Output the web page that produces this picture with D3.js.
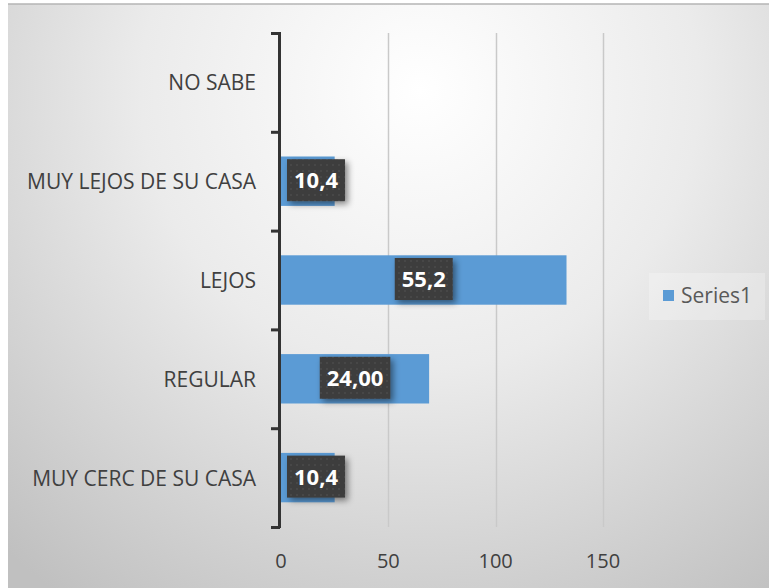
<!DOCTYPE html>
<html><head><meta charset="utf-8">
<script src="https://cdn.jsdelivr.net/npm/d3@7"></script>
<style>html,body{margin:0;padding:0;background:#fff;}svg{display:block;}</style>
</head><body>
<svg id="c" width="769" height="588"></svg>
<script>
const categories = ["MUY CERC DE SU CASA", "REGULAR", "LEJOS", "MUY LEJOS DE SU CASA", "NO SABE"];
const values = [25, 69, 133, 25, 0];
const dataLabels = ["10,4", "24,00", "55,2", "10,4", ""];
const xTicks = [0, 50, 100, 150];
const seriesName = "Series1";

const svg = d3.select("#c");
const defs = svg.append("defs");
const rg = defs.append("radialGradient").attr("id","bg")
  .attr("gradientUnits","userSpaceOnUse").attr("cx",420).attr("cy",90).attr("r",620);
rg.append("stop").attr("offset","0").attr("stop-color","#ffffff");
rg.append("stop").attr("offset","0.45").attr("stop-color","#ebebeb");
rg.append("stop").attr("offset","1").attr("stop-color","#c0c0c0");
const f = defs.append("filter").attr("id","sh").attr("x","-30%").attr("y","-30%").attr("width","170%").attr("height","170%");
f.append("feDropShadow").attr("dx",3).attr("dy",3).attr("stdDeviation",3).attr("flood-color","#000").attr("flood-opacity",0.45);
const pat = defs.append("pattern").attr("id","dots").attr("width",6).attr("height",6).attr("patternUnits","userSpaceOnUse");
pat.append("rect").attr("width",6).attr("height",6).attr("fill","#3c3c3c");
pat.append("circle").attr("cx",3).attr("cy",3).attr("r",0.9).attr("fill","#4a4a4a");

svg.append("rect").attr("x",8).attr("y",4).attr("width",761).attr("height",584).attr("fill","url(#bg)");
svg.append("line").attr("x1",8).attr("x2",769).attr("y1",4).attr("y2",4).attr("stroke","#b4b4b4").attr("stroke-width",1.5);

const x = d3.scaleLinear().domain([0,150]).range([281,603]);
const order = categories.slice().reverse();
const yb = d3.scaleBand().domain(order).range([33,527]).paddingInner(0.5).paddingOuter(0.25);
const yEdge = d3.scaleBand().domain(order).range([33,527]).padding(0);

// gridlines
svg.append("g").selectAll("line").data(xTicks.filter(d=>d>0)).join("line")
  .attr("x1",d=>Math.round(x(d))+0.5).attr("x2",d=>Math.round(x(d))+0.5)
  .attr("y1",33).attr("y2",527).attr("stroke","#c9c9c9").attr("stroke-width",1.5);

// x tick labels
svg.append("g").selectAll("text").data(xTicks).join("text")
  .attr("x",d=>x(d)).attr("y",568).attr("text-anchor","middle")
  .attr("font-family","Open Sans").attr("font-size",20).attr("fill","#404040")
  .text(d=>d);

// bars
svg.append("g").selectAll("rect").data(categories.map((c,i)=>({c,v:values[i]}))).join("rect")
  .attr("x",x(0)).attr("y",d=>yb(d.c)).attr("width",d=>x(d.v)-x(0)).attr("height",yb.bandwidth())
  .attr("fill","#5b9bd5");

// axis line with ticks
const edges = order.map(c=>yEdge(c)).concat([527]);
svg.append("line").attr("x1",279.5).attr("x2",279.5).attr("y1",32).attr("y2",528)
  .attr("stroke","#333").attr("stroke-width",3);
svg.append("g").selectAll("line").data(edges).join("line")
  .attr("x1",271).attr("x2",280).attr("y1",d=>d+0.5).attr("y2",d=>d+0.5)
  .attr("stroke","#333").attr("stroke-width",3);

// category labels
svg.append("g").selectAll("text").data(categories).join("text")
  .attr("x",256).attr("y",d=>yEdge(d)+yEdge.bandwidth()/2+8)
  .attr("text-anchor","end").attr("font-family","Open Sans").attr("font-size",21).attr("fill","#404040")
  .text(d=>d);

// data labels
const lg = svg.append("g");
categories.forEach((c,i)=>{
  if(!dataLabels[i]) return;
  const g = lg.append("g");
  const t = g.append("text").attr("font-family","Open Sans").attr("font-weight","bold")
    .attr("font-size",22).attr("fill","#fff").attr("text-anchor","middle").text(dataLabels[i]);
  const w = t.node().getComputedTextLength()+14, h = 42;
  let cx = (x(0)+x(values[i]))/2;
  cx = Math.max(cx, x(0)+6+w/2);
  const cy = yb(c)+yb.bandwidth()/2-1;
  g.insert("rect","text").attr("x",cx-w/2).attr("y",cy-h/2).attr("width",w).attr("height",h)
    .attr("fill","url(#dots)").attr("filter","url(#sh)");
  t.attr("x",cx).attr("y",cy+8);
});

// legend
svg.append("rect").attr("x",649).attr("y",273).attr("width",116).attr("height",47).attr("fill","#ffffff").attr("fill-opacity",0.25);
svg.append("rect").attr("x",663).attr("y",290).attr("width",11).attr("height",11).attr("fill","#5b9bd5");
svg.append("text").attr("x",681).attr("y",303).attr("font-family","Open Sans").attr("font-size",21).attr("fill","#595959").text(seriesName);
</script>
</body></html>
